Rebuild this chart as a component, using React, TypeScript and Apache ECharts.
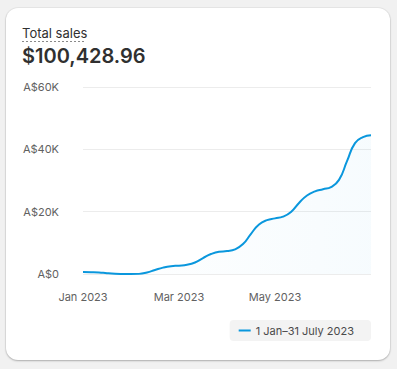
import React, { useEffect, useRef } from "react";
import * as echarts from "echarts";

const categories = [
  "2023-01-01", "2023-01-06", "2023-01-11", "2023-01-16", "2023-01-21", "2023-01-26",
  "2023-02-01", "2023-02-06", "2023-02-11", "2023-02-16", "2023-02-21", "2023-02-26",
  "2023-03-01", "2023-03-06", "2023-03-11", "2023-03-16", "2023-03-21", "2023-03-26",
  "2023-04-01", "2023-04-06", "2023-04-11", "2023-04-16", "2023-04-21", "2023-04-26",
  "2023-05-01", "2023-05-06", "2023-05-11", "2023-05-16", "2023-05-21", "2023-05-26",
  "2023-06-01", "2023-06-06", "2023-06-11", "2023-06-16", "2023-06-21", "2023-06-26",
  "2023-07-01",
];
const sales = [
  640, 600, 500, 250, 80, 20,
  0, 40, 500, 1300, 2050, 2520,
  2680, 2950, 3700, 5100, 6400, 7150,
  7350, 7900, 9600, 12900, 15900, 17300,
  17850, 18400, 19900, 22800, 25200, 26500,
  27200, 27900, 30200, 36200, 42000, 43900,
  44500,
];
const xTickLabels: Record<number, string> = { 0: "Jan 2023", 12: "Mar 2023", 24: "May 2023" };
const yTickLabels: Record<number, string> = { 0: "A$0", 20000: "A$20K", 40000: "A$40K", 60000: "A$60K" };
const seriesName = "1 Jan–31 July 2023";
const titleText = "Total sales";
const totalText = "$100,428.96";

export default function App() {
  const ref = useRef<HTMLDivElement>(null);
  useEffect(() => {
    if (!ref.current) return;
    const chart = echarts.init(ref.current, undefined, { renderer: "svg" });
    const font = "Inter, 'Noto Sans', sans-serif";
    chart.setOption({
      animation: false,
      textStyle: { fontFamily: font },
      graphic: [
        {
          type: "text",
          left: 16,
          top: 18,
          style: { text: titleText, font: `400 13px ${font}`, fill: "#303030" },
        },
        {
          type: "line",
          shape: { x1: 16, y1: 33.5, x2: 80, y2: 33.5 },
          style: { stroke: "#8a8a8a", lineWidth: 1, lineDash: [2, 2] },
        },
        {
          type: "text",
          left: 16,
          top: 38,
          style: { text: totalText, font: `600 20px ${font}`, fill: "#303030" },
        },
      ],
      grid: { left: 77, right: 19, top: 79, bottom: 86, containLabel: false },
      legend: {
        show: true,
        right: 19,
        top: 312,
        backgroundColor: "#f3f3f3",
        borderRadius: 4,
        padding: [5, 17, 5, 9],
        icon: "rect",
        itemWidth: 12,
        itemHeight: 2,
        itemGap: 8,
        textStyle: { color: "#4a4a4a", fontSize: 11, fontFamily: font },
        data: [seriesName],
      },
      xAxis: {
        type: "category",
        data: categories,
        boundaryGap: false,
        axisLine: { show: false },
        axisTick: { show: false },
        axisLabel: {
          interval: (i: number) => xTickLabels[i] !== undefined,
          formatter: (_v: string, i: number) => xTickLabels[i] ?? "",
          color: "#616161",
          fontSize: 11,
          margin: 17,
        },
      },
      yAxis: {
        type: "value",
        min: 0,
        max: 60000,
        interval: 20000,
        axisLine: { show: false },
        axisTick: { show: false },
        splitLine: { lineStyle: { color: "#ececec", width: 1 } },
        axisLabel: {
          formatter: (v: number) => yTickLabels[v] ?? "",
          color: "#616161",
          fontSize: 11,
          margin: 24,
        },
      },
      series: [
        {
          name: seriesName,
          type: "line",
          data: sales,
          smooth: 0.5,
          symbol: "none",
          lineStyle: { color: "#0a97dd", width: 2 },
          itemStyle: { color: "#0a97dd" },
          areaStyle: {
            color: new echarts.graphic.LinearGradient(0, 0, 1, 0, [
              { offset: 0, color: "rgba(10,151,221,0)" },
              { offset: 1, color: "rgba(10,151,221,0.05)" },
            ]),
          },
        },
      ],
    });
    return () => chart.dispose();
  }, []);
  return (
    <div
      style={{
        position: "fixed",
        left: 0,
        top: 0,
        width: 397,
        height: 369,
        background: "#f1f1f1",
      }}
    >
      <div
        style={{
          position: "absolute",
          left: 6,
          top: 8,
          width: 384,
          height: 352,
          background: "#ffffff",
          borderRadius: 12,
          boxShadow: "0 1px 2px rgba(0,0,0,0.25), 0 0 0 1px rgba(0,0,0,0.04)",
          overflow: "hidden",
        }}
      >
        <div ref={ref} style={{ width: 384, height: 352 }} />
      </div>
    </div>
  );
}
